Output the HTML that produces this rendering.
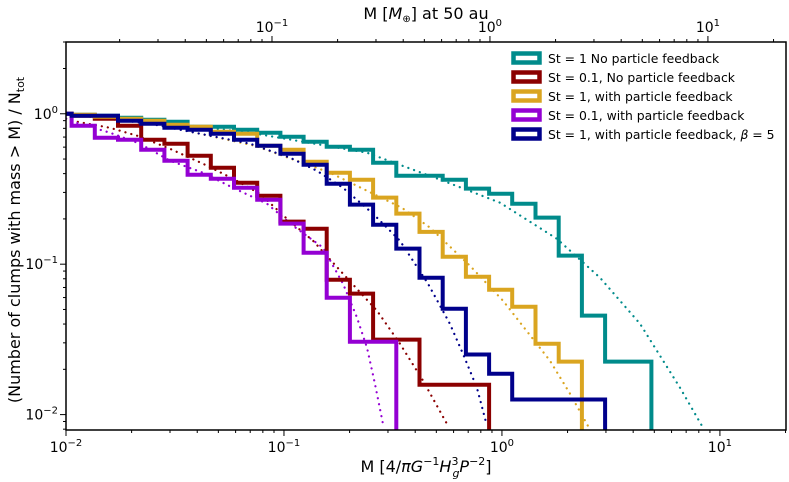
<!DOCTYPE html>
<html><head><meta charset="utf-8"><style>
body{margin:0;background:#fff}
svg{display:block;font-family:"DejaVu Sans","Liberation Sans",sans-serif}
</style></head><body>
<svg id="chart" width="789" height="482" viewBox="0 0 789 482" xmlns="http://www.w3.org/2000/svg">
<defs><clipPath id="clip"><rect x="66" y="42" width="720" height="388"/></clipPath></defs>
<rect x="0" y="0" width="789" height="482" fill="#fff"/>
<g id="fits" clip-path="url(#clip)"></g>
<g id="steps" clip-path="url(#clip)"></g>
<g id="axes"></g>
<rect x="66" y="42" width="720" height="388" fill="none" stroke="#000" stroke-width="1.5"/>
<g id="legend"></g>
<text x="426" y="19" text-anchor="middle" font-size="16">M [<tspan font-style="italic">M</tspan><tspan font-size="10" dy="3">⊕</tspan><tspan dy="-3">] at 50 au</tspan></text>
<text x="426" y="472" text-anchor="middle" font-size="16">M [4/<tspan font-style="italic">πG</tspan><tspan font-size="11" dy="-7">−1</tspan><tspan font-style="italic" dy="7">H</tspan><tspan font-size="11" dy="-7">3</tspan><tspan font-size="11" dx="-6" dy="12" font-style="italic">g</tspan><tspan font-style="italic" dy="-5">P</tspan><tspan font-size="11" dy="-7">−2</tspan><tspan dy="7">]</tspan></text>
<text transform="translate(20,240) rotate(-90)" text-anchor="middle" font-size="16">(Number of clumps with mass &gt; M) / N<tspan font-size="11" dy="4">tot</tspan></text>
</svg>
<script>
const binEdges=[0.01061,0.01356,0.01732,0.02213,0.02828,0.03613,0.04616,0.05897,0.07534,0.09626,0.1230,0.1571,0.2007,0.2565,0.3277,0.4186,0.5348,0.6833,0.8730,1.115,1.425,1.821,2.326,2.972,3.797,4.851];
const seriesNames=["St = 1 No particle feedback","St = 0.1, No particle feedback","St = 1, with particle feedback","St = 0.1, with particle feedback","St = 1, with particle feedback, β = 5"];
const tealVals=[0.985,0.970,0.941,0.912,0.884,0.820,0.820,0.783,0.748,0.703,0.652,0.604,0.577,0.472,0.387,0.387,0.364,0.318,0.294,0.252,0.204,0.114,0.0455,0.0225,0.0225];
const redVals=[0.970,0.926,0.832,0.672,0.632,0.526,0.438,0.348,0.285,0.192,0.172,0.0789,0.0637,0.0315,0.0315,0.0158,0.0158,0.0158];
const goldVals=[0.985,0.955,0.926,0.899,0.845,0.820,0.759,0.736,0.613,0.577,0.480,0.406,0.364,0.277,0.217,0.164,0.112,0.0826,0.0677,0.0522,0.0296,0.0225];
const purpleVals=[0.832,0.693,0.672,0.577,0.487,0.393,0.370,0.322,0.268,0.186,0.119,0.0598,0.0305,0.0305];
const blueVals=[0.970,0.970,0.899,0.858,0.807,0.783,0.736,0.672,0.613,0.542,0.458,0.343,0.249,0.183,0.127,0.0813,0.0506,0.0251,0.0187,0.0126,0.0126,0.0126,0.0126];
const tealFitLogM=[-2,-1.615,-1.156,-0.619,-0.271,-0.009,0.252,0.450,0.633,0.817,0.917];
const tealFitLogN=[0,-0.047,-0.126,-0.259,-0.445,-0.591,-0.831,-1.090,-1.395,-1.821,-2.073];
const redFitLogM=[-2,-1.950,-1.798,-1.674,-1.523,-1.372,-1.234,-1.110,-0.986,-0.867,-0.729,-0.573,-0.468,-0.362,-0.248];
const redFitLogN=[-0.033,-0.053,-0.093,-0.146,-0.233,-0.332,-0.432,-0.532,-0.698,-0.844,-1.063,-1.309,-1.528,-1.774,-2.073];
const goldFitLogM=[-2,-1.615,-1.133,-0.789,-0.459,-0.330,-0.147,0.005,0.220,0.312,0.394];
const goldFitLogN=[0,-0.060,-0.213,-0.392,-0.625,-0.757,-1.010,-1.243,-1.641,-1.860,-2.073];
const purpleFitLogM=[-2,-1.982,-1.798,-1.661,-1.523,-1.372,-1.234,-1.078,-0.959,-0.821,-0.729,-0.665,-0.619,-0.583,-0.546];
const purpleFitLogN=[-0.033,-0.047,-0.126,-0.199,-0.312,-0.392,-0.492,-0.598,-0.744,-0.890,-1.130,-1.355,-1.555,-1.794,-2.060];
const blueFitLogM=[-2,-1.615,-1.156,-0.972,-0.849,-0.729,-0.592,-0.468,-0.339,-0.239,-0.179,-0.115,-0.069];
const blueFitLogN=[0,-0.066,-0.199,-0.292,-0.379,-0.492,-0.664,-0.844,-1.130,-1.395,-1.595,-1.821,-2.073];
const xTickLabels=["−2","−1","0","1"];
const yTickLabels=["0","−1","−2"];
const topTickLabels=["−1","0","1"];
const topFactor=1.135;

const NS="http://www.w3.org/2000/svg";
const L=66,R=786,T=42,B=430;
const xmin=Math.log10(0.01),xmax=Math.log10(20.1),ymin=Math.log10(0.0079),ymax=Math.log10(3.0);
function xl(lg){return L+(lg-xmin)/(xmax-xmin)*(R-L);}
function yl(lg){return B-(lg-ymin)/(ymax-ymin)*(B-T);}
function X(v){return xl(Math.log10(v));}
function Y(v){return yl(Math.log10(v));}
function mk(tag,attrs,parent){const e=document.createElementNS(NS,tag);for(const k in attrs)e.setAttribute(k,attrs[k]);parent.appendChild(e);return e;}

const colors=["#008b8b","#8b0000","#daa520","#9400d3","#00008b"];
const vals=[tealVals,redVals,goldVals,purpleVals,blueVals];
const fitM=[tealFitLogM,redFitLogM,goldFitLogM,purpleFitLogM,blueFitLogM];
const fitN=[tealFitLogN,redFitLogN,goldFitLogN,purpleFitLogN,blueFitLogN];
const keys=["teal","red","gold","purple","blue"];

const fits=document.getElementById('fits');
fitM.forEach((m,i)=>{
  let d="";m.forEach((lm,j)=>{d+=(j?"L":"M")+xl(lm).toFixed(1)+","+yl(fitN[i][j]).toFixed(1);});
  const p=mk('path',{d:d,fill:"none",stroke:colors[i],"stroke-width":2.2,"stroke-dasharray":"0.1,6","stroke-linecap":"round"},fits);
  
  
});

const steps=document.getElementById('steps');
vals.forEach((v,i)=>{
  let d="M"+L+","+Y(1).toFixed(1)+"L"+X(binEdges[0]).toFixed(1)+","+Y(1).toFixed(1);
  v.forEach((y,j)=>{d+="L"+X(binEdges[j]).toFixed(1)+","+Y(y).toFixed(1)+"L"+X(binEdges[j+1]).toFixed(1)+","+Y(y).toFixed(1);});
  d+="L"+X(binEdges[v.length]).toFixed(1)+","+(B+5);
  const p=mk('path',{d:d,fill:"none",stroke:colors[i],"stroke-width":4,"stroke-linejoin":"miter"},steps);
  
  
});

const ax=document.getElementById('axes');
for(let e=-2;e<=1;e++){
  for(let k=1;k<10;k++){
    const lg=e+Math.log10(k);if(lg<xmin-1e-9||lg>xmax)continue;
    const x=xl(lg);const len=k==1?6:3;
    mk('line',{x1:x,y1:B,x2:x,y2:B+len,stroke:"#000","stroke-width":1},ax);
  }
}
xTickLabels.forEach((t,i)=>{
  const x=xl(i-2);
  const tx=mk('text',{x:x,y:B+22,"text-anchor":"middle","font-size":14},ax);
  
  
  tx.innerHTML='10<tspan font-size="10" dy="-6">'+t+'</tspan>';
});
const toff=Math.log10(topFactor);
for(let e=-2;e<=1;e++){
  for(let k=1;k<10;k++){
    const lg=e+Math.log10(k)-toff;if(lg<xmin||lg>xmax)continue;
    const x=xl(lg);const len=k==1?6:3;
    mk('line',{x1:x,y1:T,x2:x,y2:T-len,stroke:"#000","stroke-width":1},ax);
  }
}
topTickLabels.forEach((t,i)=>{
  const x=xl(i-1-toff);
  const tx=mk('text',{x:x,y:T-10,"text-anchor":"middle","font-size":14},ax);
  
  
  tx.innerHTML='10<tspan font-size="10" dy="-6">'+t+'</tspan>';
});
for(let e=-3;e<=0;e++){
  for(let k=1;k<10;k++){
    const lg=e+Math.log10(k);if(lg<ymin||lg>ymax)continue;
    const y=yl(lg);const len=k==1?6:3;
    mk('line',{x1:L,y1:y,x2:L-len,y2:y,stroke:"#000","stroke-width":1},ax);
  }
}
yTickLabels.forEach((t,i)=>{
  const y=yl(-i);
  const tx=mk('text',{x:L-8,y:y+5,"text-anchor":"end","font-size":14},ax);
  
  
  tx.innerHTML='10<tspan font-size="10" dy="-6">'+t+'</tspan>';
});

const lg=document.getElementById('legend');
seriesNames.forEach((n,i)=>{
  const cy=58+i*19;
  const h=mk('rect',{x:513.5,y:cy-4.5,width:26,height:9,fill:"none",stroke:colors[i],"stroke-width":4.5},lg);
  
  
  const tx=mk('text',{x:548,y:cy+5,"font-size":12.4},lg);
  
  
  if(i==4){tx.innerHTML='St = 1, with particle feedback, <tspan font-style="italic">β</tspan> = 5';}
  else tx.textContent=n;
});
</script>
</body></html>
